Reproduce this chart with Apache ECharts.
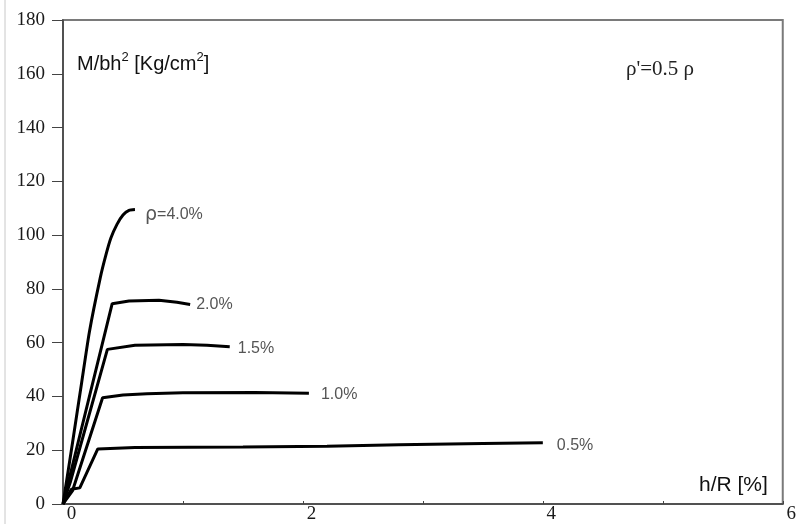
<!DOCTYPE html>
<html>
<head>
<meta charset="utf-8">
<script src="https://cdn.jsdelivr.net/npm/echarts@6/dist/echarts.min.js"></script>
<style>
  html, body { margin: 0; padding: 0; background: #fff; }
  #chart { width: 799px; height: 524px; }
</style>
</head>
<body>
<div id="chart"></div>
<script>
// Axis tick labels
const xTickLabels = ['0', '', '2', '', '4', '', '6'];
const yTickLabels = ['0', '20', '40', '60', '80', '100', '120', '140', '160', '180'];

// Moment M/bh^2 [Kg/cm^2] against drift h/R [%] for each reinforcement ratio
const hr05 = [0, 0.07, 0.14, 0.29, 0.6, 1.5, 2.2, 2.8, 3.5, 4.0];
const m05  = [0, 5.5, 6, 20.5, 21, 21.2, 21.5, 22, 22.5, 22.8];

const hr10 = [0, 0.08, 0.33, 0.5, 0.7, 1.0, 1.6, 2.05];
const m10  = [0, 5, 39.5, 40.5, 41, 41.4, 41.5, 41.2];

const hr15 = [0, 0.06, 0.37, 0.6, 1.0, 1.2, 1.39];
const m15  = [0, 8, 57.5, 59, 59.3, 59, 58.5];

const hr20 = [0, 0.41, 0.55, 0.8, 0.95, 1.06];
const m20  = [0, 74.5, 75.5, 75.8, 75, 74.2];

const hr40 = [0, 0.08, 0.155, 0.22, 0.31, 0.36, 0.4, 0.45, 0.5, 0.55, 0.6];
const m40  = [0, 23, 45, 64, 84, 93, 99, 104, 107.5, 109.2, 109.5];

const pairs = (xs, ys) => xs.map((x, i) => [x, ys[i]]);

const labelStyle = {
  fontFamily: 'Liberation Sans',
  fontSize: 16,
  color: '#555'
};

function curve(name, xs, ys, dist, dy, smooth, extra) {
  return {
    type: 'line',
    name: name,
    data: pairs(xs, ys),
    smooth: smooth,
    showSymbol: false,
    lineStyle: { color: '#000', width: 3 },
    endLabel: Object.assign({
      show: true,
      formatter: '{a}',
      distance: dist,
      offset: [0, dy]
    }, labelStyle, extra || {}),
    animation: false
  };
}

const chart = echarts.init(document.getElementById('chart'));
chart.setOption({
  animation: false,
  backgroundColor: '#fff',
  grid: {
    left: 63, right: 11, top: 20, bottom: 18.5,
    show: true, borderColor: '#7a7a7a', borderWidth: 2
  },
  xAxis: {
    type: 'value',
    min: 0, max: 6, interval: 1,
    axisLine: { show: true, lineStyle: { color: '#444', width: 1.5 } },
    axisTick: { show: true, inside: true, length: 3, lineStyle: { color: '#444' } },
    splitLine: { show: false },
    axisLabel: {
      formatter: (v) => xTickLabels[Math.round(v)] || '',
      fontFamily: 'Liberation Serif',
      fontSize: 19,
      color: '#1a1a1a',
      margin: 1,
      padding: [0, 0, 0, 17]
    }
  },
  yAxis: {
    type: 'value',
    min: 0, max: 180, interval: 20,
    axisLine: { show: true, lineStyle: { color: '#444', width: 1.5 } },
    axisTick: { show: true, inside: false, length: 11, lineStyle: { color: '#444' } },
    splitLine: { show: false },
    axisLabel: {
      formatter: (v) => yTickLabels[Math.round(v / 20)],
      fontFamily: 'Liberation Serif',
      fontSize: 19,
      color: '#1a1a1a',
      margin: 18
    }
  },
  title: [
    {
      text: 'M/bh{s|2} [Kg/cm{s|2}]',
      left: 72, top: 46,
      textStyle: {
        fontFamily: 'Liberation Sans', fontSize: 20, fontWeight: 'normal', color: '#111',
        rich: {
          s: { fontFamily: 'Liberation Sans', fontSize: 13, color: '#111', verticalAlign: 'top', padding: [0, 0, 13, 0] }
        }
      }
    },
    {
      text: 'ρ\'=0.5 ρ',
      left: 621, top: 54,
      textStyle: { fontFamily: 'Liberation Serif', fontSize: 21, fontWeight: 'normal', color: '#222' }
    },
    {
      text: 'h/R [%]',
      left: 694, top: 470,
      textStyle: { fontFamily: 'Liberation Sans', fontSize: 21, fontWeight: 'normal', color: '#111' }
    }
  ],
  graphic: [
    {
      type: 'line',
      shape: { x1: 5, y1: 0, x2: 5, y2: 524 },
      style: { stroke: '#c8c8c8', lineWidth: 1 }
    }
  ],
  series: [
    curve('0.5%', hr05, m05, 14, 3, false),
    curve('1.0%', hr10, m10, 12, 1, false),
    curve('1.5%', hr15, m15, 8, 2, false),
    curve('2.0%', hr20, m20, 6, 0, false),
    curve('4.0%', hr40, m40, 10, 5, 0.2, {
      formatter: '{r|ρ}=4.0%',
      rich: { r: { fontFamily: 'DejaVu Sans', fontSize: 19, color: '#555' } }
    })
  ]
});
</script>
</body>
</html>
